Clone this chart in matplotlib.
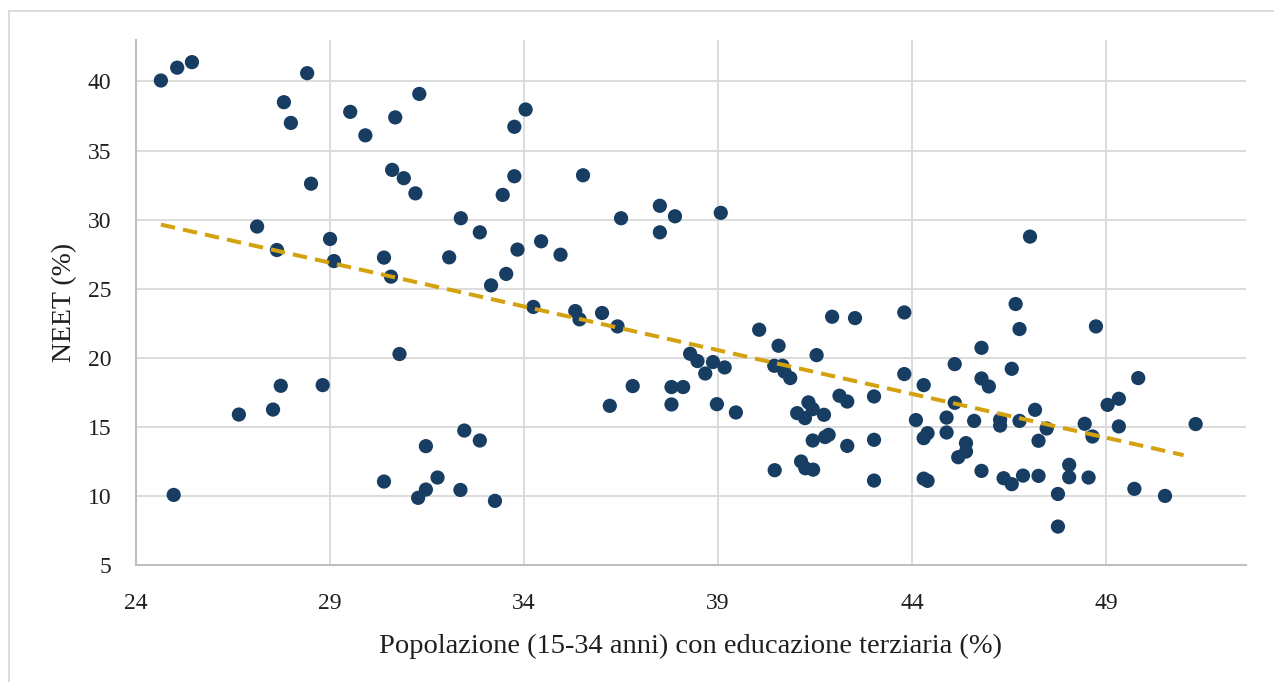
import numpy as np
import matplotlib
matplotlib.use("Agg")
import matplotlib.pyplot as plt
from matplotlib.lines import Line2D

# tertiary education share (15-34) vs NEET rate
tertiary = [
    24.64, 25.06, 25.44, 28.41, 27.81, 27.99, 28.51, 27.12, 27.63, 29.52,
    29.91, 30.68, 31.30, 30.60, 30.90, 31.20, 29.00, 29.10, 30.39, 30.57,
    34.04, 33.75, 33.75, 35.52, 33.45, 32.37, 32.86, 32.07, 33.83, 34.44,
    34.94, 33.54, 33.15, 36.50, 37.50, 37.89, 37.50, 39.07, 34.24, 35.32,
    35.43, 36.01, 36.41, 38.28, 38.47, 38.87, 39.17, 38.67, 36.80, 37.80,
    38.10, 36.21, 37.80, 38.97, 39.46, 32.46, 32.86, 31.47, 31.77, 31.47,
    32.36, 33.25, 31.27, 30.79, 27.73, 28.81, 26.65, 27.53, 24.97, 30.39,
    40.06, 40.56, 41.94, 42.53, 43.80, 41.54, 40.45, 40.66, 40.71, 40.86,
    41.33, 41.44, 41.04, 41.24, 41.73, 42.13, 42.33, 43.02, 41.44, 41.76,
    41.85, 42.33, 43.02, 40.46, 41.14, 41.25, 41.45, 43.02, 43.80, 44.30,
    45.10, 45.79, 45.79, 45.98, 45.10, 44.10, 44.89, 45.60, 46.27, 46.27,
    44.30, 44.40, 44.89, 45.39, 45.39, 45.19, 45.79, 44.30, 44.40, 46.36,
    46.67, 46.77, 48.74, 46.57, 49.83, 49.04, 49.33, 47.17, 46.77, 47.47,
    47.26, 48.45, 48.65, 49.33, 51.31, 48.05, 48.05, 48.55, 46.57, 46.86,
    47.26, 47.76, 47.76, 49.73, 50.52, 47.04,
]
neet = [
    40.07, 41.00, 41.40, 40.60, 38.50, 37.00, 32.60, 29.50, 27.80, 37.80,
    36.10, 37.40, 39.10, 33.60, 33.00, 31.90, 28.60, 27.00, 27.25, 25.87,
    37.97, 36.72, 33.14, 33.21, 31.79, 30.10, 29.08, 27.27, 27.83, 28.43,
    27.46, 26.07, 25.24, 30.10, 31.00, 30.24, 29.08, 30.49, 23.68, 23.38,
    22.78, 23.24, 22.27, 20.29, 19.76, 19.69, 19.30, 18.86, 17.95, 17.88,
    17.88, 16.52, 16.62, 16.64, 16.04, 14.73, 14.01, 13.60, 11.33, 10.46,
    10.43, 9.64, 9.86, 20.27, 17.97, 18.02, 15.89, 16.25, 10.07, 11.04,
    22.03, 20.87, 22.97, 22.87, 23.28, 20.19, 19.42, 19.42, 19.00, 18.53,
    16.77, 16.28, 15.99, 15.63, 15.87, 17.25, 16.83, 17.20, 14.01, 14.26,
    14.42, 13.62, 14.06, 11.86, 12.49, 12.00, 11.90, 11.11, 18.82, 18.02,
    19.54, 20.72, 18.50, 17.92, 16.74, 15.49, 15.67, 15.43, 15.51, 15.09,
    14.18, 14.54, 14.59, 13.82, 13.21, 12.80, 11.81, 11.25, 11.09, 11.28,
    23.89, 22.08, 22.27, 19.20, 18.53, 16.59, 17.03, 16.23, 15.43, 14.88,
    13.99, 15.22, 14.30, 15.03, 15.20, 12.25, 11.35, 11.33, 10.85, 11.47,
    11.45, 10.14, 7.78, 10.51, 10.00, 28.77,
]
# linear trendline as drawn in the reference (endpoints)
trend_x = [24.64, 51.0]
trend_y = [29.64, 12.95]

x_ticks = [24, 29, 34, 39, 44, 49]
y_ticks = [5, 10, 15, 20, 25, 30, 35, 40]

plt.rcParams["font.family"] = ["Liberation Serif", "DejaVu Serif"]

fig = plt.figure(figsize=(12.74, 6.82), dpi=100)
ax = fig.add_axes([0.1068, 0.1716, 0.8710, 0.7697])

grid_col = "#D9D9D9"
text_col = "#1F1F1F"

ax.scatter(tertiary, neet, s=105, color="#173D63", edgecolors="none", zorder=3)
ax.plot(trend_x, trend_y, color="#D4A20F", linewidth=2.9,
        linestyle=(0, (3.6, 2.0)), zorder=4)

ax.set_xlim(24, 52.6)
ax.set_ylim(5, 43)
ax.set_xticks(x_ticks)
ax.set_yticks(y_ticks)
ax.grid(True, color=grid_col, linewidth=1.3)
ax.set_axisbelow(True)
ax.tick_params(length=0, labelsize=17, colors=text_col)
ax.tick_params(axis="y", pad=18)
ax.tick_params(axis="x", pad=20)

for side in ("top", "right"):
    ax.spines[side].set_visible(False)
for side in ("left", "bottom"):
    ax.spines[side].set_color("#BFBFBF")
    ax.spines[side].set_linewidth(1.5)

ax.set_xlabel("Popolazione (15-34 anni) con educazione terziaria (%)",
              fontsize=20.5, color=text_col)
ax.set_ylabel("NEET (%)", fontsize=20, color=text_col)
ax.xaxis.set_label_coords(0.5, -0.131)
ax.yaxis.set_label_coords(-0.053, 0.5)

# chart area border (only top and left edges are visible in the crop)
fig.add_artist(Line2D([9 / 1274, 9 / 1274], [0, 1 - 11 / 682],
                      transform=fig.transFigure, color=grid_col, linewidth=1.3))
fig.add_artist(Line2D([9 / 1274, 1], [1 - 11 / 682, 1 - 11 / 682],
                      transform=fig.transFigure, color=grid_col, linewidth=1.3))

fig.savefig("out.png", dpi=100)
